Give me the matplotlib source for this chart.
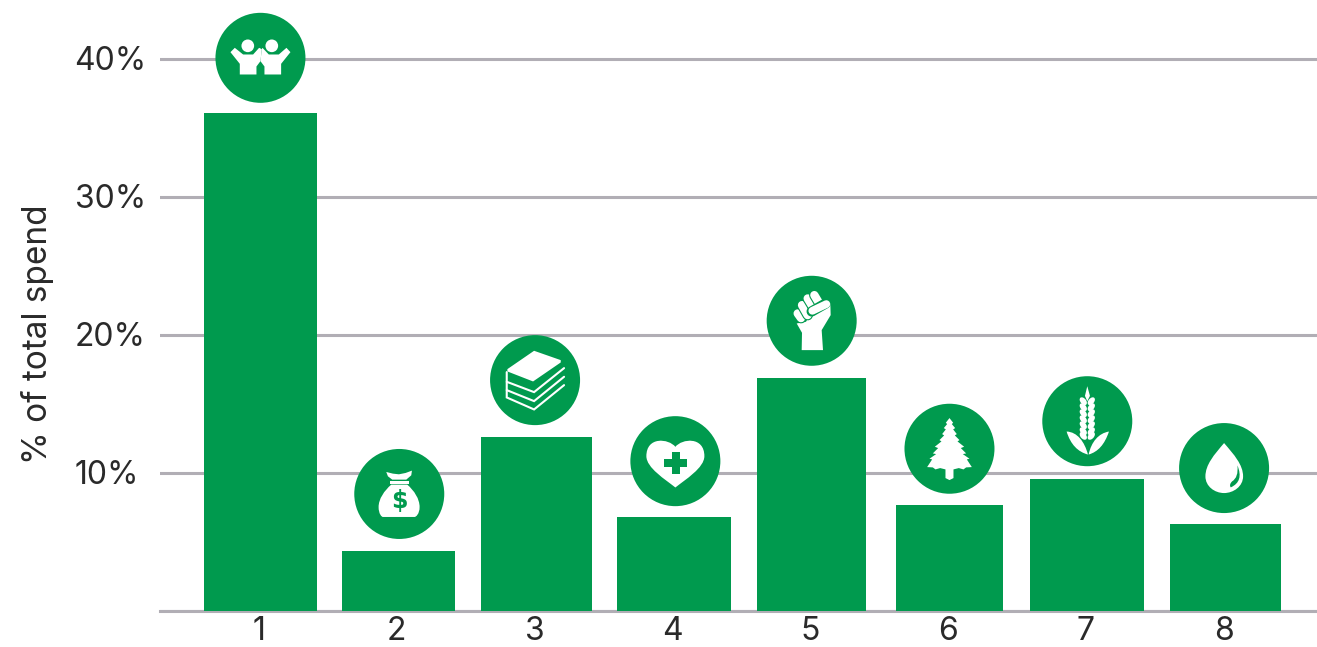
import matplotlib
matplotlib.use("Agg")
import matplotlib.pyplot as plt
from matplotlib.patches import Circle, Ellipse, PathPatch, Polygon
from matplotlib.path import Path
from matplotlib.transforms import Affine2D, IdentityTransform, ScaledTranslation

plt.rcParams["font.family"] = ["Inter", "DejaVu Sans"]

# 数据
categories = [1, 2, 3, 4, 5, 6, 7, 8]
values = [36.1, 4.35, 12.6, 6.8, 16.9, 7.7, 9.55, 6.3]
bar_widths = [0.82, 0.82, 0.805, 0.825, 0.79, 0.775, 0.825, 0.805]
y_ticks = [0, 10, 20, 30, 40]
y_tick_labels = ["", "10%", "20%", "30%", "40%"]
y_title = "% of total spend"

GREEN = "#009a4e"
GREY = "#b1aeb5"
TEXT = "#2a2a2a"
WHITE = "white"

W, H = 1317, 647
fig = plt.figure(figsize=(W / 100, H / 100), dpi=100)
ax = fig.add_axes([160 / W, 36 / H, (W - 160) / W, (H - 36) / H])
ax.set_xlim(0.271, 8.667)
ax.set_ylim(0, 611 / 13.8)

ax.bar(categories, values, width=bar_widths, color=GREEN, zorder=3)

ax.set_xticks(categories)
ax.set_yticks(y_ticks)
ax.set_yticklabels(y_tick_labels)
ax.yaxis.grid(True, color=GREY, linewidth=2.2, zorder=1)
ax.set_axisbelow(True)
ax.tick_params(axis="both", length=0, labelsize=23, labelcolor=TEXT)
ax.tick_params(axis="x", pad=3.5)
ax.tick_params(axis="y", pad=61.5)
# 纵轴文字上移一点，横轴数字比柱子中心略偏左
y_shift = ScaledTranslation(0, 1 / 100, fig.dpi_scale_trans)
for label in ax.get_yticklabels():
    label.set_ha("left")
    label.set_transform(label.get_transform() + y_shift)
x_shift = ScaledTranslation(-1.5 / 100, 0, fig.dpi_scale_trans)
for label in ax.get_xticklabels():
    label.set_transform(label.get_transform() + x_shift)
for name in ["top", "left", "right"]:
    ax.spines[name].set_visible(False)
ax.spines["bottom"].set_color(GREY)
ax.spines["bottom"].set_linewidth(2.2)
fig.text(38 / W, 1 - 334 / H, y_title, rotation=90, ha="center", va="center",
         fontsize=24, color=TEXT)


# 图标形状都用放大3倍的像素坐标，以圆心为原点，y向下
def add_shape(patch, cx, cy):
    patch.set_transform(Affine2D().scale(1 / 3, -1 / 3).translate(cx, cy))
    patch.set_clip_on(False)
    patch.set_zorder(6)
    ax.add_patch(patch)
    return patch


def poly(points, cx, cy, color=WHITE):
    add_shape(Polygon(points, closed=True, facecolor=color, edgecolor="none"), cx, cy)


def curve(verts, codes, cx, cy, color=WHITE):
    add_shape(PathPatch(Path(verts, codes), facecolor=color, edgecolor="none"), cx, cy)


def stroke(points, cx, cy, width, color=WHITE, cap="round"):
    add_shape(PathPatch(Path(points), fill=False, edgecolor=color, linewidth=width,
                        capstyle=cap, joinstyle="miter"), cx, cy)


def icon_people(cx, cy):
    for hx in [-38, 34]:
        add_shape(Circle((hx, -36), 19, facecolor=WHITE, edgecolor="none"), cx, cy)
    poly([(-90, -17), (-77, -30), (-52, -10), (-22, -10), (-4, -30), (4, -26), (0, 10),
          (-12, 26), (-12, 50), (-62, 50), (-62, 18)], cx, cy)
    poly([(90, -17), (78, -30), (55, -10), (25, -10), (6, -30), (4, -26), (0, 10),
          (12, 26), (12, 50), (62, 50), (62, 18)], cx, cy)


def icon_bag(cx, cy):
    poly([(-39, -66), (-19, -61), (-1, -59), (19, -63), (38, -70), (36, -56), (21, -43),
          (-21, -43), (-34, -53)], cx, cy)
    poly([(-29, -39), (28, -39), (28, -31), (-29, -31)], cx, cy)
    M, L, C, Z = Path.MOVETO, Path.LINETO, Path.CURVE4, Path.CLOSEPOLY
    curve([(-24, -28), (24, -28), (45, -10), (61, 15), (61, 39), (61, 60), (50, 69),
           (46, 69), (-49, 69), (-53, 69), (-62, 60), (-62, 39), (-62, 15), (-45, -10),
           (-24, -28), (-24, -28)],
          [M, L, C, C, C, C, C, C, L, C, C, C, C, C, C, Z], cx, cy)
    ax.text(cx, cy + (-24 / 3) + 0.5, "$", transform=IdentityTransform(), ha="center",
            va="center", fontsize=17, fontweight="bold", color=GREEN, zorder=7,
            clip_on=False, family=["DejaVu Sans"])


def icon_books(cx, cy):
    poly([(-83, -33), (-3, -88), (77, -60), (77, -53), (-6, 4), (-83, -26)], cx, cy)
    stroke([(-85, -24), (-85, 52), (-3, 88), (87, 15)], cx, cy, 1.5)
    stroke([(-85, 5), (-3, 36), (87, -36)], cx, cy, 1.5)
    stroke([(-85, 30), (-3, 63), (87, -10)], cx, cy, 1.5)


def icon_heart(cx, cy):
    M, C = Path.MOVETO, Path.CURVE4
    curve([(0, -43), (20, -68), (87, -75), (87, -15), (87, 20), (30, 55), (0, 79),
           (-30, 55), (-87, 20), (-87, -15), (-87, -75), (-20, -68), (0, -43)],
          [M, C, C, C, C, C, C, C, C, C, C, C, C], cx, cy)
    poly([(-11, -28), (14, -28), (14, -7), (36, -7), (36, 19), (14, 19), (14, 38),
          (-11, 38), (-11, 19), (-35, 19), (-35, -7), (-11, -7)], cx, cy, GREEN)


def icon_fist(cx, cy):
    poly([(-30, 88), (34, 88), (30, 28), (57, -17), (56, -52), (35, -60), (3, -32),
          (-17, 3), (-45, 8), (-29, 36)], cx, cy)
    for start, end in [((-42, -22), (-32, -8)), ((-29, -47), (-12, -17)),
                       ((-12, -67), (6, -37)), ((8, -77), (23, -52))]:
        stroke([start, end], cx, cy, 7.6, GREEN)
        stroke([start, end], cx, cy, 6.0)
    stroke([(0, -28), (42, -52)], cx, cy, 7.4, GREEN)
    stroke([(2, -30), (44, -50)], cx, cy, 5.6)


def icon_tree(cx, cy):
    half = [(0, -92), (11, -78), (7, -74), (17, -62), (11, -58), (22, -44), (16, -40),
            (30, -26), (24, -22), (44, -6), (34, -2), (50, 14), (40, 16), (60, 30),
            (52, 32), (67, 55), (50, 56), (42, 62), (28, 58), (12, 62), (12, 88), (0, 94)]
    left = [(-x, y) for x, y in reversed(half[1:-1])]
    poly(half + left, cx, cy)


def icon_wheat(cx, cy):
    poly([(0, -105), (8, -76), (0, -60), (-7, -76)], cx, cy)
    for ey in [-60, -42, -24, -6, 12, 30, 44]:
        for ex, angle in [(-12, -40), (12, 40)]:
            add_shape(Ellipse((ex, ey), 17, 27, angle=angle, facecolor=WHITE, edgecolor="none"),
                      cx, cy)
    M, C = Path.MOVETO, Path.CURVE4
    curve([(-62, 31), (-30, 32), (-8, 62), (2, 100), (-28, 92), (-50, 70), (-62, 31)],
          [M, C, C, C, C, C, C], cx, cy)
    curve([(65, 31), (34, 36), (12, 62), (4, 100), (32, 92), (52, 70), (65, 31)],
          [M, C, C, C, C, C, C], cx, cy)


def icon_drop(cx, cy):
    M, C, Q = Path.MOVETO, Path.CURVE4, Path.CURVE3
    curve([(0, -75), (-30, -40), (-56, -10), (-56, 25), (-56, 55), (-28, 75), (0, 75),
           (28, 75), (57, 55), (57, 25), (57, -10), (30, -40), (0, -75)],
          [M, C, C, C, C, C, C, C, C, C, C, C, C], cx, cy)
    curve([(40, -8), (60, 40), (20, 58), (14, 50), (24, 40), (44, 28), (40, -8)],
          [M, Q, Q, Q, Q, Q, Q], cx, cy, GREEN)


icons = [icon_people, icon_bag, icon_books, icon_heart, icon_fist, icon_tree, icon_wheat, icon_drop]
# 圆心相对柱顶中心的像素偏移
gap = [55, 57, 57, 56, 57, 56, 58, 56]
nudge = [0, 1, -1, 1.5, 0, 0, 0, -1]
for cat, val, draw_icon, up, dx in zip(categories, values, icons, gap, nudge):
    px, py = ax.transData.transform((cat, val))
    px = px + dx
    py = py + up
    ax.add_patch(Circle((px, py), 45, transform=IdentityTransform(), facecolor=GREEN,
                        edgecolor="none", zorder=5, clip_on=False))
    draw_icon(px, py)

fig.savefig("out.png", dpi=100)
